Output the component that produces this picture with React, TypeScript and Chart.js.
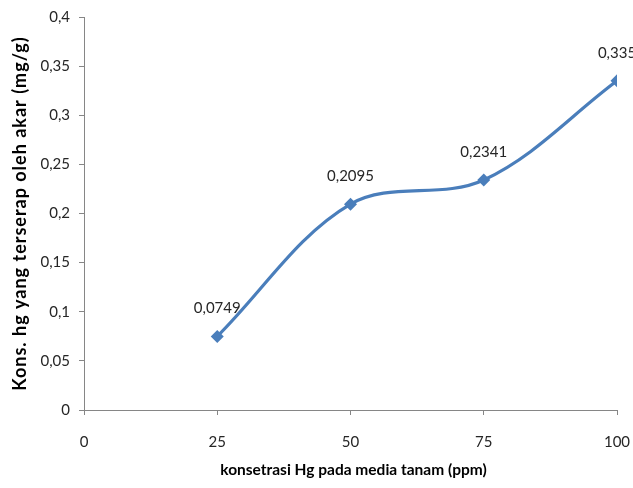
import React, { useEffect, useRef } from "react";
import { Chart, registerables } from "chart.js";

Chart.register(...registerables);

const xValues = [25, 50, 75, 100];
const yValues = [0.0749, 0.2095, 0.2341, 0.335];
const pointLabels = ["0,0749", "0,2095", "0,2341", "0,335"];
const xTitle = "konsetrasi Hg pada media tanam (ppm)";
const yTitle = "Kons. hg yang terserap oleh akar (mg/g)";

const FONT = "Lato, 'Open Sans', sans-serif";
const AXIS_GRAY = "#868686";
const TEXT = "#262626";

const fmt = (v: number) => String(Number(v.toFixed(4))).replace(".", ",");

const labelPlugin = {
  id: "pointLabels",
  afterDatasetsDraw(chart: any) {
    const ctx = chart.ctx;
    const meta = chart.getDatasetMeta(0);
    ctx.save();
    ctx.font = `15px ${FONT}`;
    ctx.fillStyle = TEXT;
    ctx.textAlign = "center";
    ctx.textBaseline = "middle";
    meta.data.forEach((pt: any, i: number) => {
      ctx.fillText(pointLabels[i], pt.x, pt.y - 28);
    });
    ctx.restore();
  },
};

const titlePlugin = {
  id: "axisTitles",
  afterDraw(chart: any) {
    const ctx = chart.ctx;
    const area = chart.chartArea;
    ctx.save();
    ctx.fillStyle = "#000";
    ctx.textAlign = "center";
    ctx.textBaseline = "middle";
    ctx.font = `bold 15.5px ${FONT}`;
    ctx.fillText(xTitle, (area.left + area.right) / 2 + 3, 470);
    ctx.translate(20, (area.top + area.bottom) / 2);
    ctx.rotate(-Math.PI / 2);
    ctx.font = `bold 18px ${FONT}`;
    (ctx as any).letterSpacing = "1px";
    ctx.fillText(yTitle, 0, 0);
    ctx.restore();
  },
};

export default function App() {
  const ref = useRef<HTMLCanvasElement | null>(null);
  useEffect(() => {
    if (!ref.current) return;
    const chart = new Chart(ref.current, {
      type: "line",
      data: {
        datasets: [
          {
            data: xValues.map((x, i) => ({ x, y: yValues[i] })),
            borderColor: "#4A7EBB",
            backgroundColor: "#4A7EBB",
            borderWidth: 3.2,
            tension: 0.35,
            pointStyle: "rectRot",
            pointRadius: 6.5,
            pointHoverRadius: 6.5,
            pointBorderWidth: 0,
            fill: false,
          },
        ],
      },
      options: {
        animation: false,
        responsive: false,
        events: [],
        layout: { padding: { top: 17, right: 16, left: 0, bottom: 0 } },
        plugins: { legend: { display: false }, tooltip: { enabled: false } },
        scales: {
          x: {
            type: "linear",
            min: 0,
            max: 100,
            afterFit: (s: any) => {
              s.height = 78;
              s.paddingLeft = 0;
              s.paddingRight = 0;
            },
            ticks: {
              stepSize: 25,
              font: { family: FONT, size: 15 },
              color: TEXT,
              padding: 18,
              maxRotation: 0,
            },
            grid: { drawOnChartArea: false, drawTicks: true, tickLength: 5, color: AXIS_GRAY },
            border: { color: AXIS_GRAY },
          },
          y: {
            type: "linear",
            min: 0,
            max: 0.4,
            afterFit: (s: any) => {
              s.width = 84;
              s.paddingTop = 0;
              s.paddingBottom = 0;
            },
            ticks: {
              stepSize: 0.05,
              font: { family: FONT, size: 15 },
              color: TEXT,
              padding: 9,
              callback: (v: any) => fmt(Number(v)),
            },
            grid: { drawOnChartArea: false, drawTicks: true, tickLength: 5, color: AXIS_GRAY },
            border: { color: AXIS_GRAY },
          },
        },
      },
      plugins: [labelPlugin, titlePlugin],
    });
    return () => chart.destroy();
  }, []);
  return (
    <div style={{ position: "absolute", left: 0, top: 0, width: 633, height: 488, background: "#fff" }}>
      <canvas ref={ref} width={633} height={488} style={{ display: "block" }} />
    </div>
  );
}
